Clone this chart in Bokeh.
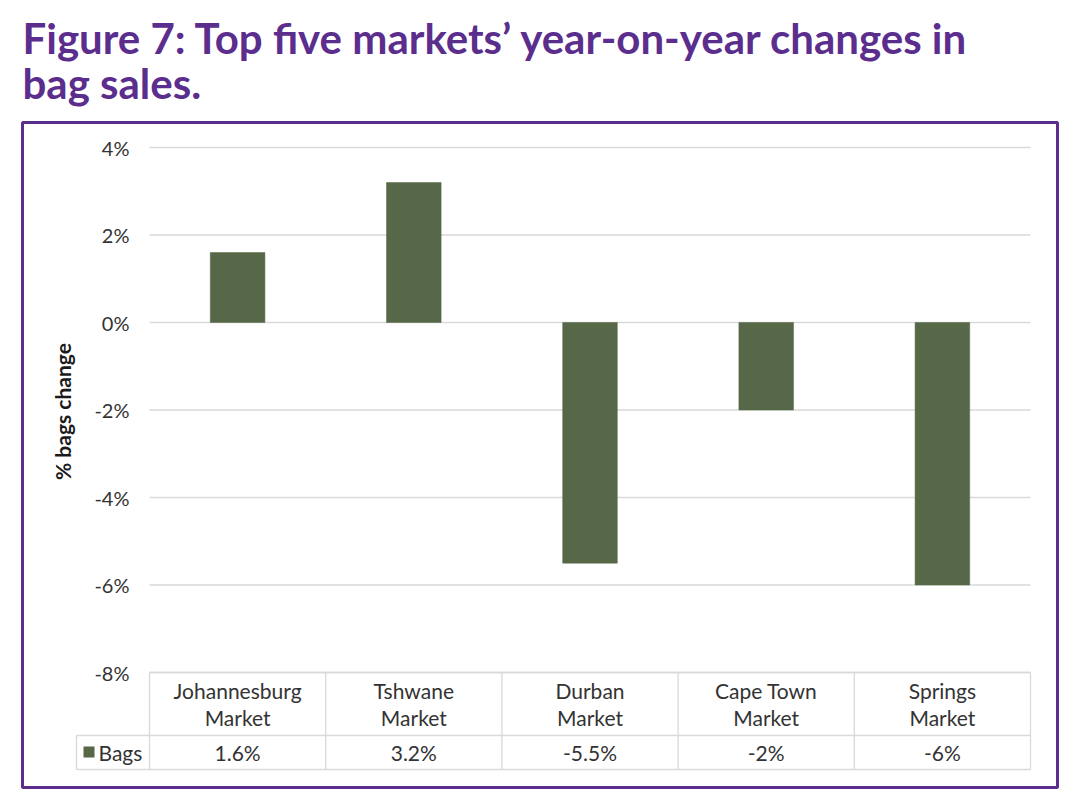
import math
from bokeh.plotting import figure
from bokeh.models import ColumnDataSource, Range1d
from bokeh.core.properties import value
from bokeh.embed import file_html
from bokeh.resources import INLINE

# ---------------- data ----------------
markets = ["Johannesburg Market", "Tshwane Market", "Durban Market",
           "Cape Town Market", "Springs Market"]
bags_change = [1.6, 3.2, -5.5, -2.0, -6.0]
y_ticks = [4, 2, 0, -2, -4, -6, -8]
tick_labels = ["4%", "2%", "0%", "-2%", "-4%", "-6%", "-8%"]
series_name = "Bags"
value_labels = ["1.6%", "3.2%", "-5.5%", "-2%", "-6%"]
title_lines = ["Figure 7: Top five markets\u2019 year-on-year changes in", "bag sales."]
y_label = "% bags change"

# ---------------- styles ----------------
PURPLE = "#5B2E8E"
GREEN = "#566847"
GRID = "#D9D9D9"
TXT = "#333333"
FONT = "Lato"

W, H = 1070, 793
ORIGIN = 0  # picture pixel where the canvas starts
# picture-pixel geometry of the plotting band
PX_X0, PX_X5 = 149, 1030
PX_Y4, PX_Y0 = 147, 322
n = len(markets)
sx = (PX_X5 - PX_X0) / n
sy = (PX_Y0 - PX_Y4) / 4.0


def X(px):
    return (px - PX_X0) / sx


def Y(py):
    return (PX_Y0 - py) / sy


p = figure(width=W, height=H, output_backend="svg", toolbar_location=None,
           x_range=Range1d(X(ORIGIN), X(ORIGIN + W)),
           y_range=Range1d(Y(ORIGIN + H), Y(ORIGIN)),
           x_axis_location=None, y_axis_location=None,
           min_border=0, min_border_left=0, min_border_right=0,
           min_border_top=0, min_border_bottom=0)
p.grid.visible = False
p.outline_line_color = None
p.background_fill_color = "white"

centers = [i + 0.5 for i in range(n)]
x_left = 0
x_right = n
y_min = min(y_ticks)

# gridlines (above the table)
p.segment(x0=[x_left] * len(y_ticks), x1=[x_right] * len(y_ticks),
          y0=y_ticks, y1=y_ticks, line_color=GRID, line_width=1.3)

# bars
src = ColumnDataSource(dict(x=centers, top=bags_change, bottom=[0] * n))
p.vbar(x="x", top="top", bottom="bottom", width=0.31, source=src,
       fill_color=GREEN, line_color=GREEN, line_width=0.5)

# y tick labels
p.text(x=[X(129)] * len(y_ticks), y=y_ticks, text=tick_labels,
       text_align="right", text_baseline="middle", text_font=value(FONT),
       text_font_size="20px", text_color=TXT)

# y axis label
p.text(x=[X(62)], y=[Y(411)], text=[y_label], angle=math.pi / 2,
       text_align="center", text_baseline="middle", text_font=value(FONT),
       text_font_size="21px", text_font_style="bold", text_color="#1a1a1a")

# ---------------- data table ----------------
row1_bot = Y(735)
row2_bot = Y(769)
legend_left = X(76)
# horizontal lines
p.segment(x0=[x_left, legend_left, legend_left], x1=[x_right] * 3,
          y0=[y_min, row1_bot, row2_bot], y1=[y_min, row1_bot, row2_bot],
          line_color=GRID, line_width=1.3)
# vertical lines
vx = list(range(n + 1))
p.segment(x0=vx, x1=vx, y0=[y_min] * len(vx), y1=[row2_bot] * len(vx),
          line_color=GRID, line_width=1.3)
p.segment(x0=[legend_left], x1=[legend_left], y0=[row1_bot], y1=[row2_bot],
          line_color=GRID, line_width=1.3)

line1 = [m.rsplit(" ", 1)[0] for m in markets]
line2 = [m.rsplit(" ", 1)[1] for m in markets]
p.text(x=centers, y=[Y(690)] * n, text=line1, text_align="center",
       text_baseline="middle", text_font=value(FONT), text_font_size="21px",
       text_color=TXT)
p.text(x=centers, y=[Y(717)] * n, text=line2, text_align="center",
       text_baseline="middle", text_font=value(FONT), text_font_size="21px",
       text_color=TXT)
p.text(x=centers, y=[Y(752)] * n, text=value_labels, text_align="center",
       text_baseline="middle", text_font=value(FONT), text_font_size="21px",
       text_color=TXT)

# legend key
p.rect(x=[X(88.5)], y=[Y(751.5)], width=11, height=11, width_units="screen",
       height_units="screen", fill_color=GREEN, line_color=None)
p.text(x=[X(98)], y=[Y(752)], text=[series_name], text_align="left",
       text_baseline="middle", text_font=value(FONT), text_font_size="21px",
       text_color=TXT)

# ---------------- frame & title ----------------
p.quad(left=[X(22)], right=[X(1057)], top=[Y(122)], bottom=[Y(787)],
       fill_color=None, line_color=PURPLE, line_width=3)

p.text(x=[X(22), X(22)], y=[Y(37), Y(82)], text=title_lines,
       text_align="left", text_baseline="alphabetic", text_font=value(FONT),
       text_font_size="42px", text_font_style="bold", text_color=PURPLE)

open("out.html", "w").write(file_html(p, INLINE))
